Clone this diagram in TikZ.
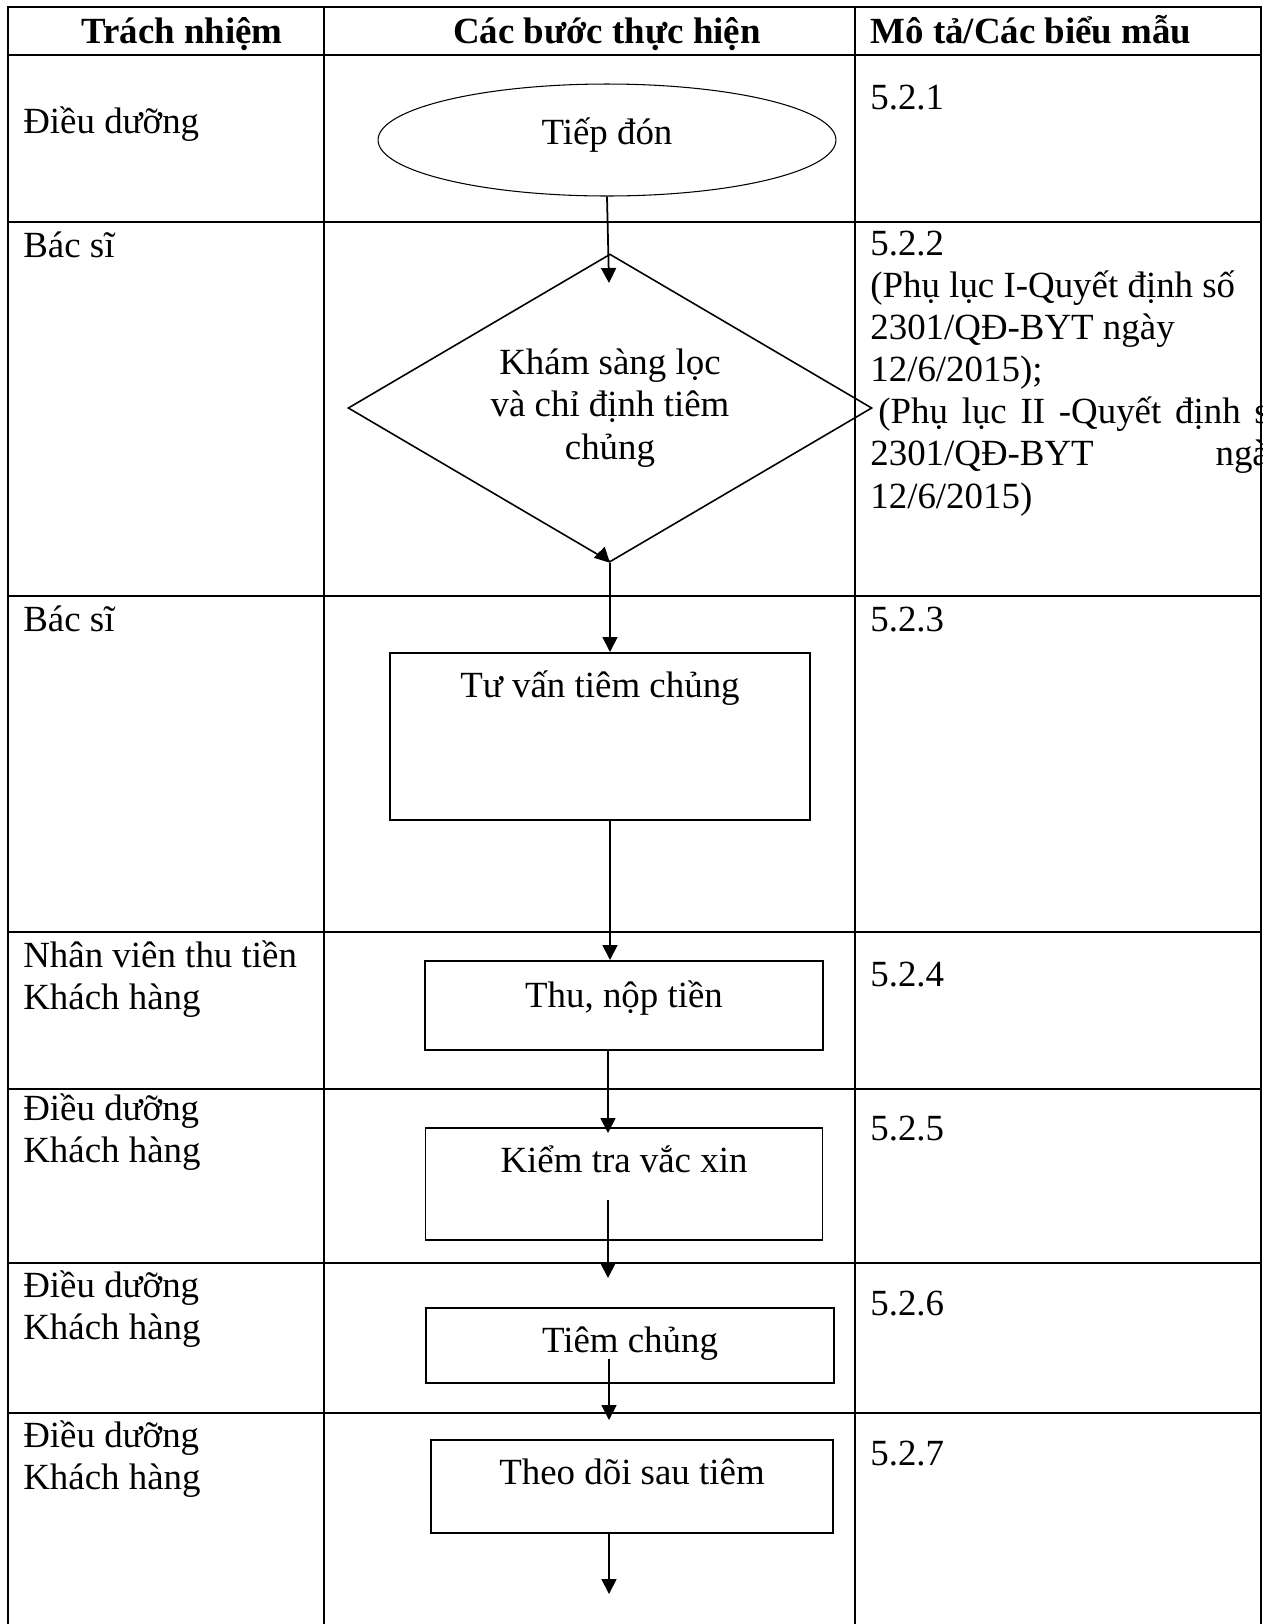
\documentclass[tikz,border=0pt]{standalone}
\usepackage{fontspec}
\setmainfont{Liberation Serif}
\usepackage{tikz}
\usetikzlibrary{shapes.geometric, arrows.meta}
\tikzstyle{arrow} = [line width=1pt,-{Triangle[width=0.3cm,length=0.3cm]}]
\tikzstyle{tableline} = [line width=1.4pt]
\newcommand{\celltext}[1]{\begin{tabular}[t]{@{}l@{}}#1\end{tabular}}

\begin{document}
\begin{tikzpicture}[x=0.02cm,y=-0.02cm,
    every node/.style={font=\fontsize{21}{24}\selectfont, inner sep=0pt},
    head/.style={font=\fontsize{21}{24}\selectfont\bfseries, anchor=base},
    cell/.style={anchor=base west},
    stepbox/.style={draw, line width=0.9pt, anchor=north, text height=0.9cm}]
    \useasboundingbox (0,0) rectangle (1268,1624);
    \clip (0,0) rectangle (1262,1624);

    \draw[tableline] (8,1624) -- (8,7) -- (1261,7) -- (1261,1624);
    \foreach \y in {55,222,596,932,1089,1263,1413}
        \draw[tableline] (8,\y) -- (1261,\y);
    \foreach \x in {324,855}
        \draw[tableline] (\x,7) -- (\x,1624);

    \node[head] (h1) at (182,43) {Trách nhiệm};
    \node[head] (h2) at (607,43) {Các bước thực hiện};
    \node[head] (h3) at (1031,43) {Mô tả/Các biểu mẫu};

    \node[cell] (r1) at (23,133) {Điều dưỡng};
    \node[cell] (r2) at (23,257) {Bác sĩ};
    \node[cell] (r3) at (23,631) {Bác sĩ};
    \node[cell] (r4) at (23,967) {\celltext{Nhân viên thu tiền\\Khách hàng}};
    \node[cell] (r5) at (23,1120) {\celltext{Điều dưỡng\\Khách hàng}};
    \node[cell] (r6) at (23,1297) {\celltext{Điều dưỡng\\Khách hàng}};
    \node[cell] (r7) at (23,1447) {\celltext{Điều dưỡng\\Khách hàng}};

    \node[cell] (d1) at (870,109) {5.2.1};
    \node[cell] (d2) at (870,255) {\celltext{5.2.2\\
        (Phụ lục I-Quyết định số\\
        2301/QĐ-BYT ngày\\
        12/6/2015);\\
        \hspace*{0.16cm}\makebox[8.18cm][s]{(Phụ lục II -Quyết định số}\\
        \makebox[8.34cm][s]{2301/QĐ-BYT ngày}\\
        12/6/2015)}};
    \node[cell] (d3) at (870,631) {5.2.3};
    \node[cell] (d4) at (870,986) {5.2.4};
    \node[cell] (d5) at (870,1140) {5.2.5};
    \node[cell] (d6) at (870,1315) {5.2.6};
    \node[cell] (d7) at (870,1465) {5.2.7};

    \node[draw, ellipse, line width=0.6pt, minimum width=9.16cm, minimum height=2.24cm, text height=0.4cm, text depth=0.24cm] (tiepdon) at (607,140) {Tiếp đón};
    \node[draw, diamond, aspect=1.7, line width=0.9pt, minimum width=10.48cm, minimum height=6.16cm, align=center] (kham) at (610,408) {Khám sàng lọc\\và chỉ định tiêm\\chủng};
    \node[stepbox, minimum width=8.4cm, text depth=2.44cm] (tuvan) at (600,652) {Tư vấn tiêm chủng};
    \node[stepbox, minimum width=7.96cm, text height=0.94cm, text depth=0.84cm] (thu) at (624,960) {Thu, nộp tiền};
    \node[stepbox, minimum width=7.94cm, text depth=1.34cm] (kiemtra) at (624,1127) {Kiểm tra vắc xin};
    \node[stepbox, minimum width=8.16cm, text depth=0.6cm] (tiem) at (630,1307) {Tiêm chủng};
    \node[stepbox, minimum width=8.04cm, text depth=0.96cm] (theodoi) at (632,1439) {Theo dõi sau tiêm};

    \coordinate (t1) at (609,283);
    \coordinate (t2) at (599,552);
    \coordinate (e1) at (608,1133);
    \coordinate (s1) at (608,1200);
    \coordinate (e2) at (608,1278);
    \coordinate (s2) at (609,1359);
    \coordinate (e3) at (609,1420);
    \coordinate (e4) at (609,1594);

    \draw[arrow] (tiepdon.south) -- (t1);
    \draw[arrow] (t2) -- (kham.south);
    \draw[arrow] (kham.south) -- (kham.south |- tuvan.north);
    \draw[arrow] (tuvan.south -| kham.south) -- (kham.south |- thu.north);
    \draw[arrow] (thu.south -| e1) -- (e1);
    \draw[arrow] (s1) -- (e2);
    \draw[arrow] (s2) -- (e3);
    \draw[arrow] (theodoi.south -| e4) -- (e4);
\end{tikzpicture}
\end{document}
